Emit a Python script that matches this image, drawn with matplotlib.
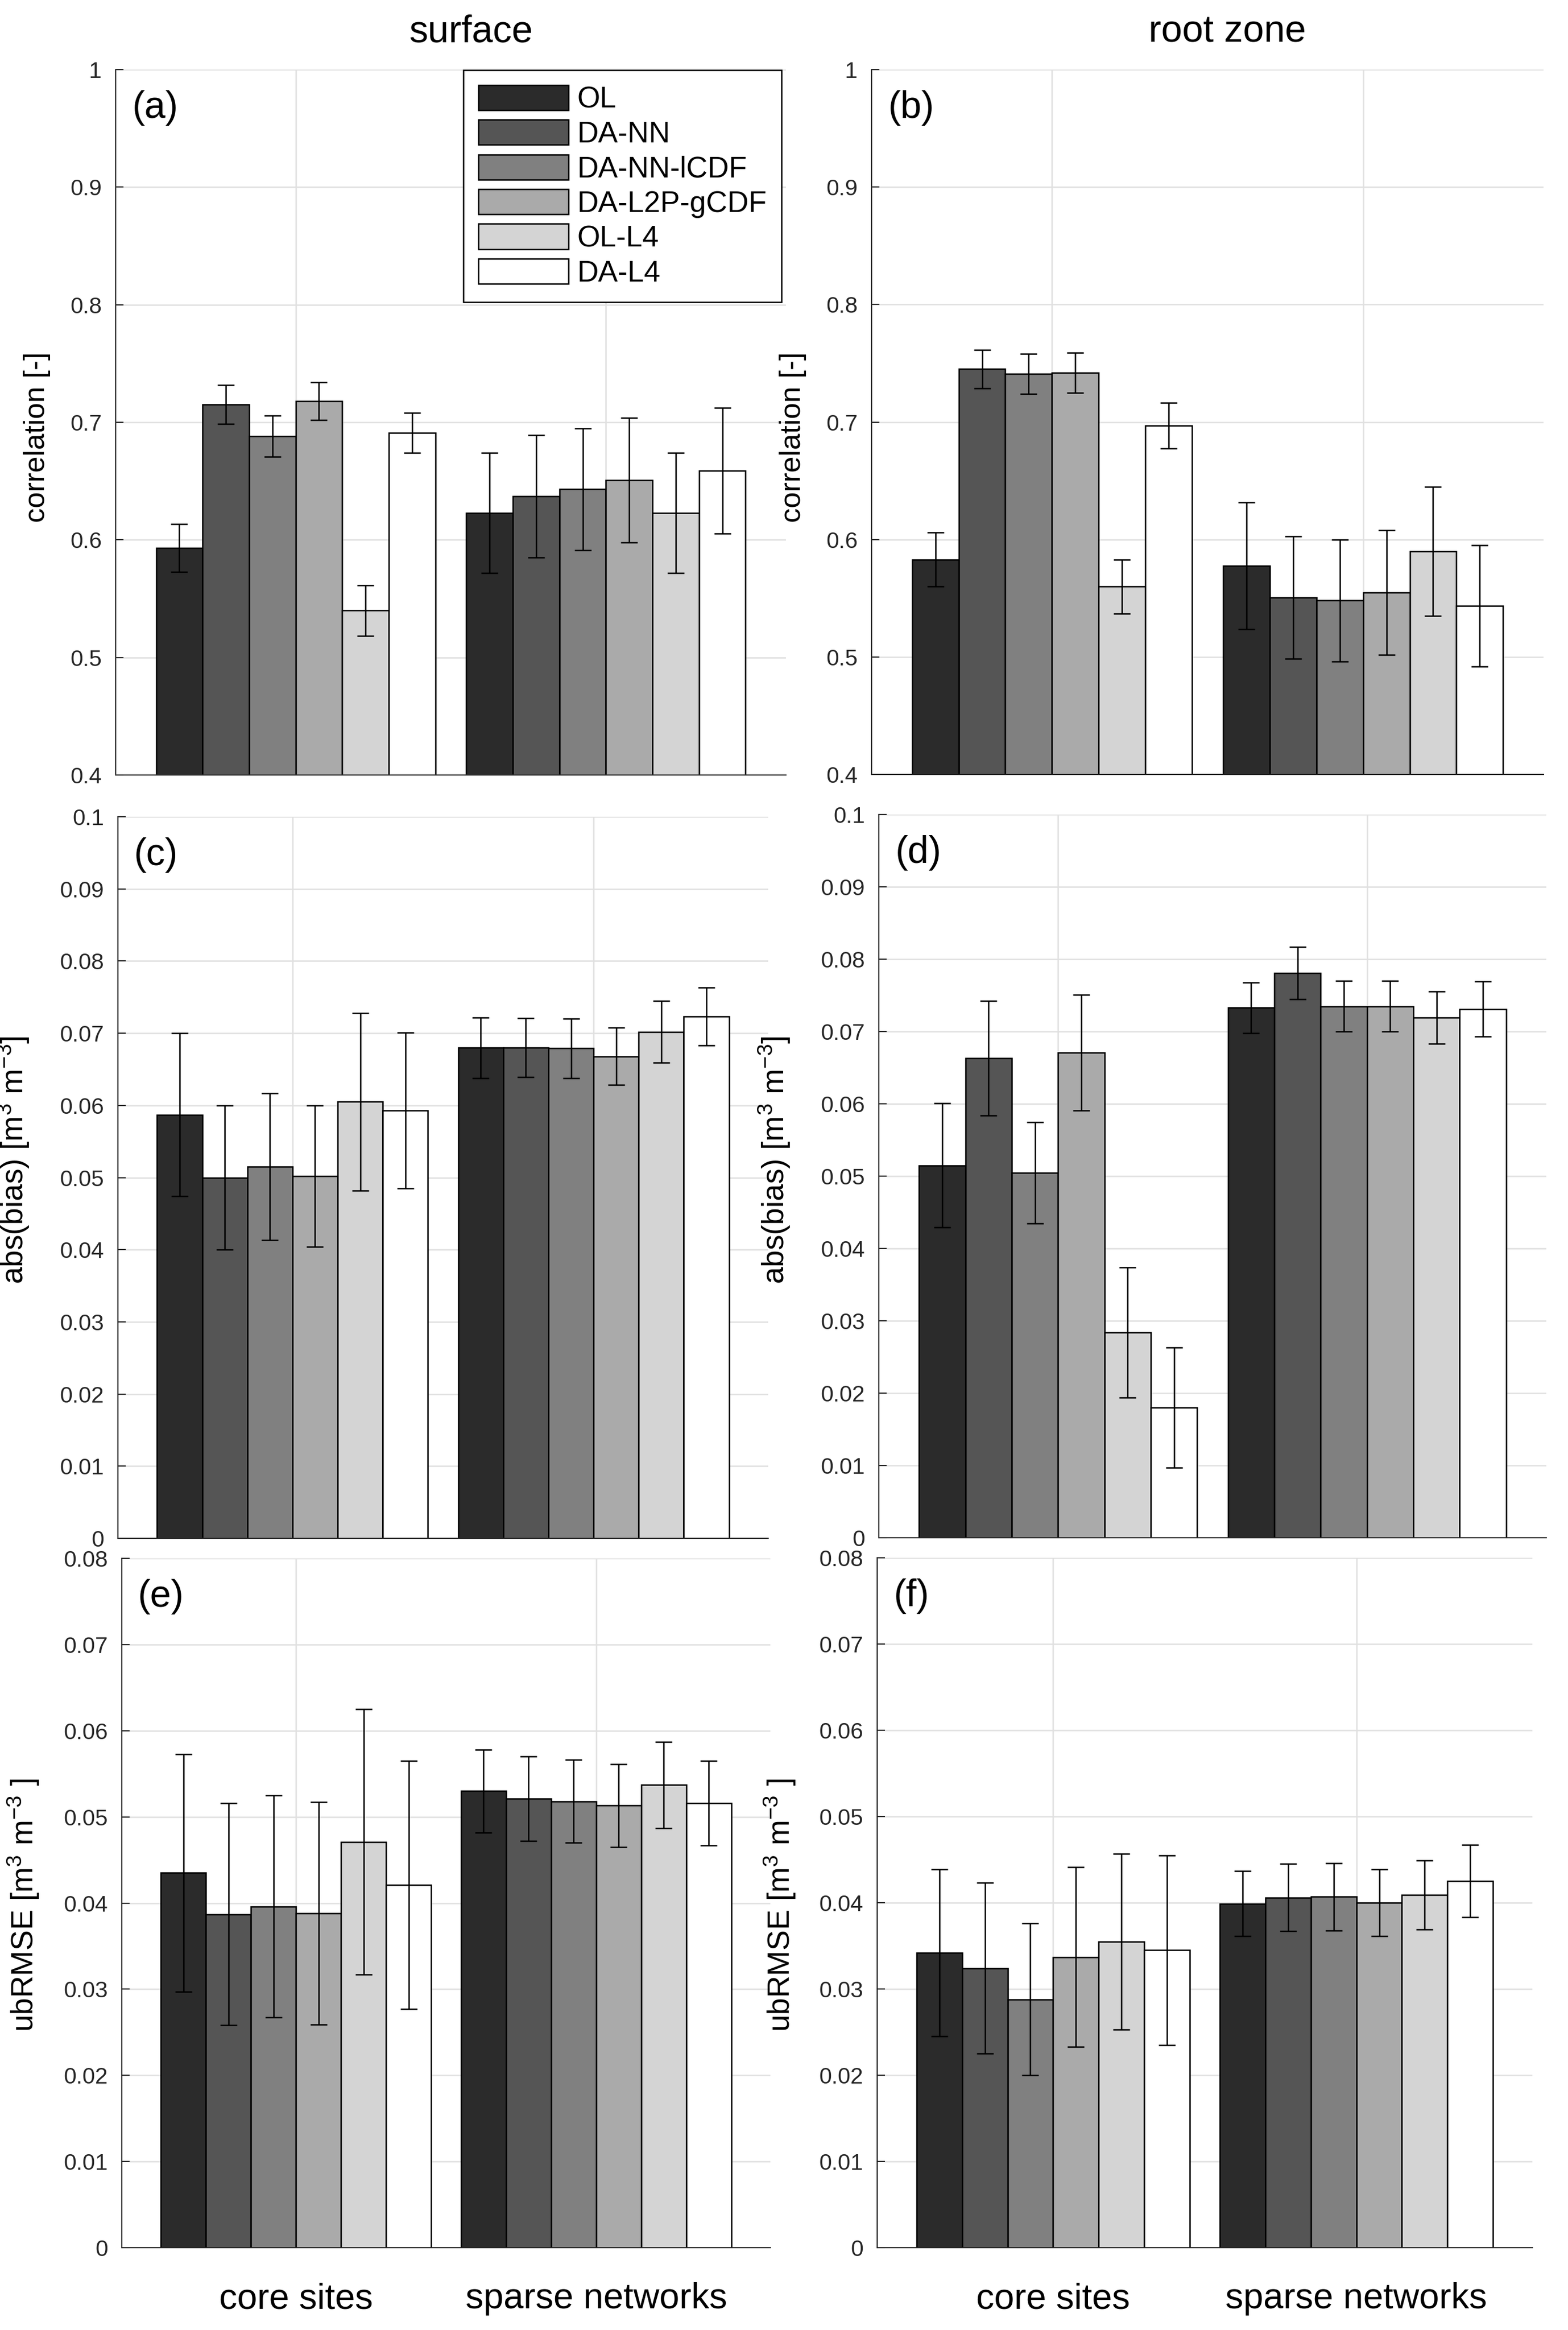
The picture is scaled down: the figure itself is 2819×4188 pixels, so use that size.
import matplotlib
matplotlib.use('Agg')
import matplotlib.pyplot as plt
from matplotlib.ticker import FuncFormatter
import numpy as np

plt.rcParams['font.family'] = ['Liberation Sans', 'DejaVu Sans']
plt.rcParams['mathtext.fontset'] = 'custom'
plt.rcParams['mathtext.rm'] = 'Liberation Sans'
plt.rcParams['mathtext.default'] = 'regular'

# ---------------------------------------------------------------- data
experiments = ['OL', 'DA-NN', 'DA-NN-lCDF', 'DA-L2P-gCDF', 'OL-L4', 'DA-L4']
groups = ['core sites', 'sparse networks']
columns = ['surface', 'root zone']

# rows: [core sites, sparse networks], values in experiment order
corr_surface = [[0.593, 0.715, 0.688, 0.718, 0.540, 0.691],
                [0.623, 0.637, 0.643, 0.651, 0.623, 0.659]]
corr_surface_err = [[0.0205, 0.0165, 0.0175, 0.016, 0.0215, 0.017],
                    [0.051, 0.052, 0.052, 0.053, 0.051, 0.0535]]

corr_root = [[0.583, 0.745, 0.741, 0.742, 0.560, 0.697],
             [0.5775, 0.5505, 0.548, 0.555, 0.590, 0.5436]]
corr_root_err = [[0.023, 0.0165, 0.017, 0.017, 0.023, 0.0195],
                 [0.054, 0.052, 0.052, 0.053, 0.055, 0.0517]]

bias_surface = [[0.0587, 0.0500, 0.0515, 0.0502, 0.0605, 0.0593],
                [0.0680, 0.0680, 0.0679, 0.0668, 0.0702, 0.0723]]
bias_surface_err = [[0.0113, 0.0100, 0.0102, 0.0098, 0.0123, 0.0108],
                    [0.0042, 0.0041, 0.0041, 0.0040, 0.0043, 0.0040]]

bias_root = [[0.0515, 0.0663, 0.0505, 0.0671, 0.0284, 0.0180],
             [0.0733, 0.0781, 0.0735, 0.0735, 0.0719, 0.0731]]
bias_root_err = [[0.0086, 0.0079, 0.0070, 0.0080, 0.0090, 0.0083],
                 [0.0035, 0.0036, 0.0035, 0.0035, 0.0036, 0.0038]]

ubrmse_surface = [[0.0435, 0.0387, 0.0396, 0.0388, 0.0471, 0.0421],
                  [0.0530, 0.0521, 0.0518, 0.0513, 0.0537, 0.0516]]
ubrmse_surface_err = [[0.0138, 0.0129, 0.0129, 0.0129, 0.0154, 0.0144],
                      [0.0048, 0.0049, 0.0048, 0.0048, 0.0050, 0.0049]]

ubrmse_root = [[0.0342, 0.0324, 0.0288, 0.0337, 0.0355, 0.0345],
               [0.0399, 0.0406, 0.0407, 0.0400, 0.0409, 0.0425]]
ubrmse_root_err = [[0.0097, 0.0099, 0.0088, 0.0104, 0.0102, 0.0110],
                   [0.0038, 0.0039, 0.0039, 0.0039, 0.0040, 0.0042]]

corr_label = 'correlation [-]'
bias_label = r'abs(bias) [m$^3$ m$^{-3}$]'
ubrmse_label = r'ubRMSE [m$^{3}$ m$^{-3}$ ]'

# ---------------------------------------------------------------- layout
W, H = 2819, 4188
DPI = 300
fig = plt.figure(figsize=(W / DPI, H / DPI), dpi=DPI)

bar_colors = ['#2b2b2b', '#555555', '#808080', '#aaaaaa', '#d4d4d4', '#ffffff']
txt_col = '#262626'

def px_axes(x0, x1, y0, y1):
    return fig.add_axes([x0 / W, 1 - y1 / H, (x1 - x0) / W, (y1 - y0) / H])

# (pixel box, data, err, ylim, yticks, ylabel, ylabel size, ylabel x/y pixel, letter)
panels = [
    ((208, 1413, 125, 1393), corr_surface, corr_surface_err, (0.4, 1.0),
     np.arange(0.4, 1.01, 0.1), corr_label, 12.6, (91, 786), '(a)'),
    ((1567, 2775, 125, 1392), corr_root, corr_root_err, (0.4, 1.0),
     np.arange(0.4, 1.01, 0.1), corr_label, 12.6, (1450, 786), '(b)'),
    ((212, 1381, 1468, 2765), bias_surface, bias_surface_err, (0, 0.1),
     np.arange(0, 0.101, 0.01), bias_label, 13.2, (56, 2085), '(c)'),
    ((1580, 2780, 1464, 2764), bias_root, bias_root_err, (0, 0.1),
     np.arange(0, 0.101, 0.01), bias_label, 13.2, (1424, 2085), '(d)'),
    ((219, 1385, 2801, 4040), ubrmse_surface, ubrmse_surface_err, (0, 0.08),
     np.arange(0, 0.081, 0.01), ubrmse_label, 13.2, (74, 3424), '(e)'),
    ((1577, 2755, 2800, 4040), ubrmse_root, ubrmse_root_err, (0, 0.08),
     np.arange(0, 0.081, 0.01), ubrmse_label, 13.2, (1434, 3424), '(f)'),
]

group_x = np.array([1, 2])
bw = 0.15

for idx, (box, vals, errs, ylim, yticks, ylab, ylab_fs, ylab_pos, letter) in enumerate(panels):
    ax = px_axes(*box)
    vals = np.array(vals)
    errs = np.array(errs)
    for i, name in enumerate(experiments):
        xs = group_x + (i - 2.5) * bw
        ax.bar(xs, vals[:, i], bw, color=bar_colors[i], edgecolor='black',
               linewidth=0.6, label=name, zorder=2)
        ax.errorbar(xs, vals[:, i], yerr=errs[:, i], fmt='none', ecolor='black',
                    elinewidth=0.6, capsize=3.5, capthick=0.6, zorder=3)

    ax.set_xlim(0.42, 2.58)
    ax.set_ylim(*ylim)
    ax.set_yticks(yticks)
    ax.yaxis.set_major_formatter(FuncFormatter(lambda v, p: '%g' % round(v, 3)))
    ax.set_xticks(group_x)
    if idx >= 4:
        ax.set_xticklabels(groups, fontsize=15.5, color='black')
    else:
        ax.set_xticklabels([])
    ax.tick_params(axis='y', direction='in', length=3.4, width=0.5, labelsize=9.8,
                   colors=txt_col, pad=6)
    ax.tick_params(axis='x', direction='in', length=3.4, width=0.5, pad=15,
                   color=txt_col)

    ax.grid(True, color='#e0e0e0', linewidth=0.6)
    ax.set_axisbelow(True)
    for s in ['top', 'right']:
        ax.spines[s].set_visible(False)
    for s in ['left', 'bottom']:
        ax.spines[s].set_linewidth(0.5)
        ax.spines[s].set_color(txt_col)

    ax.set_ylabel(ylab, fontsize=ylab_fs, color='black')
    x0, x1, y0, y1 = box
    ax.yaxis.set_label_coords((ylab_pos[0] - x0) / (x1 - x0),
                              (y1 - ylab_pos[1]) / (y1 - y0))

    ax.text(0.025, 1 - 37 / (y1 - y0), letter, transform=ax.transAxes,
            fontsize=16.3, va='top', ha='left')

    if idx == 0:
        leg = ax.legend(loc='upper right', bbox_to_anchor=(0.9934, 0.999),
                        borderaxespad=0, fontsize=12.7, handlelength=3.06,
                        handleheight=0.94, labelspacing=0.2, handletextpad=0.3,
                        borderpad=0.5, fancybox=False, framealpha=1)
        leg.get_frame().set_edgecolor('black')
        leg.get_frame().set_linewidth(0.6)

fig.text(846 / W, 1 - 57 / H, columns[0], fontsize=16.3, ha='center', va='center')
fig.text(2206 / W, 1 - 57 / H, columns[1], fontsize=16.3, ha='center', va='center')

fig.savefig('out.png', dpi=DPI)
